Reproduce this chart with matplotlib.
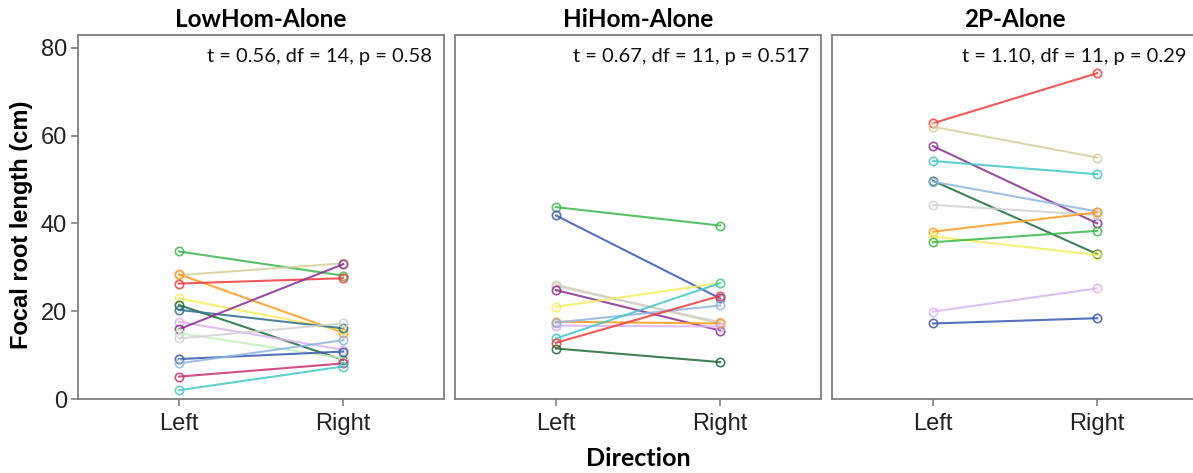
import matplotlib
matplotlib.use("Agg")
import matplotlib.pyplot as plt

# ---------------- data ----------------
panel_titles = ["LowHom-Alone", "HiHom-Alone", "2P-Alone"]
stat_labels = ["t = 0.56, df = 14, p = 0.58",
               "t = 0.67, df = 11, p = 0.517",
               "t = 1.10, df = 11, p = 0.29"]
directions = ["Left", "Right"]

low_ids   = ["green", "tan", "orange", "red", "yellow", "darkgreen", "steel",
             "lavender", "purple", "lightgreen", "lightgrey", "blue",
             "lightblue", "pink", "cyan"]
low_left  = [33.6, 28.2, 28.4, 26.3, 22.9, 21.4, 20.3, 17.6, 15.9, 15.0,
             13.8, 9.1, 8.1, 5.1, 2.0]
low_right = [28.1, 30.9, 15.1, 27.5, 15.7, 8.9, 16.1, 11.2, 30.7, 9.3,
             17.2, 10.8, 13.4, 8.1, 7.4]

hi_ids    = ["green", "blue", "tan", "lightgrey", "purple", "yellow", "orange",
             "lavender", "lightblue", "cyan", "red", "darkgreen"]
hi_left   = [43.7, 41.8, 26.0, 25.7, 24.8, 21.0, 17.6, 16.7, 17.4, 13.8,
             12.8, 11.5]
hi_right  = [39.5, 22.9, 17.2, 17.5, 15.6, 26.4, 17.2, 16.5, 21.3, 26.4,
             23.5, 8.4]

tp_ids    = ["red", "tan", "purple", "cyan", "darkgreen", "lightblue",
             "lightgrey", "orange", "yellow", "green", "lavender", "blue"]
tp_left   = [62.8, 62.0, 57.6, 54.2, 49.7, 49.5, 44.2, 38.1, 37.0, 35.7,
             19.9, 17.2]
tp_right  = [74.2, 55.0, 40.0, 51.2, 33.0, 42.7, 41.9, 42.5, 32.8, 38.3,
             25.2, 18.4]

# ---------------- styles ----------------
colors = {
    "green": "#3db84b", "tan": "#d6cf9e", "orange": "#ff9a22",
    "red": "#f23c3c", "yellow": "#f6ee5e", "darkgreen": "#1f6b3a",
    "steel": "#2f6f8f", "lavender": "#dab4f2", "purple": "#8a2f8f",
    "lightgreen": "#c4f0bc", "lightgrey": "#d2d2d2", "blue": "#3a58b0",
    "lightblue": "#8fb5e0", "pink": "#c83070", "cyan": "#45c8c8",
}

panels = [(low_ids, low_left, low_right),
          (hi_ids, hi_left, hi_right),
          (tp_ids, tp_left, tp_right)]

W, H = 1193, 473
fig = plt.figure(figsize=(W / 100, H / 100), dpi=100)

spine_col = "#7f7f7f"
lefts_px = [78, 455, 832]
ax_w_px = 366
bottom_px, top_px = 399, 35

axes = []
for i, (ids, lv, rv) in enumerate(panels):
    ax = fig.add_axes([lefts_px[i] / W, 1 - bottom_px / H,
                       ax_w_px / W, (bottom_px - top_px) / H])
    axes.append(ax)
    xs = [1, 2]
    for sid, a, b in zip(ids, lv, rv):
        c = colors[sid]
        ax.plot(xs, [a, b], color=c, lw=1.5, alpha=0.85,
                marker="o", markersize=6, markerfacecolor="none",
                markeredgecolor=c, markeredgewidth=1.2, zorder=3)
    ax.set_xlim(0.385, 2.614)
    ax.set_ylim(0, 82.9)
    ax.set_xticks(xs)
    ax.set_xticklabels(directions, fontsize=17, family="Liberation Sans",
                       color="#222222")
    ax.set_yticks([0, 20, 40, 60, 80])
    if i == 0:
        ax.set_yticklabels(["0", "20", "40", "60", "80"], fontsize=17,
                           family="Liberation Sans", color="#222222")
    else:
        ax.tick_params(axis="y", left=False, labelleft=False)
    for s in ax.spines.values():
        s.set_color(spine_col)
        s.set_linewidth(1.3)
    if i == 2:
        ax.spines["right"].set_visible(False)
    ax.tick_params(axis="x", direction="out", length=5, width=1.2,
                   color=spine_col, pad=5)
    ax.tick_params(axis="y", direction="out", length=5, width=1.2,
                   color=spine_col, pad=3)
    ax.set_title(panel_titles[i], fontsize=17.5, family="Lato",
                 fontweight="bold", pad=6)
    ax.text(0.968, 0.94, stat_labels[i], transform=ax.transAxes,
            ha="right", va="center", fontsize=14.5, family="Lato",
            color="#111111")

fig.text(22 / W, 1 - 225 / H, "Focal root length (cm)", rotation=90,
         ha="center", va="center", fontsize=17, family="Liberation Sans",
         fontweight="bold")
fig.text(638 / W, 1 - 458 / H, "Direction", ha="center", va="center",
         fontsize=18, family="Lato", fontweight="bold")

fig.savefig("out.png", dpi=100)
